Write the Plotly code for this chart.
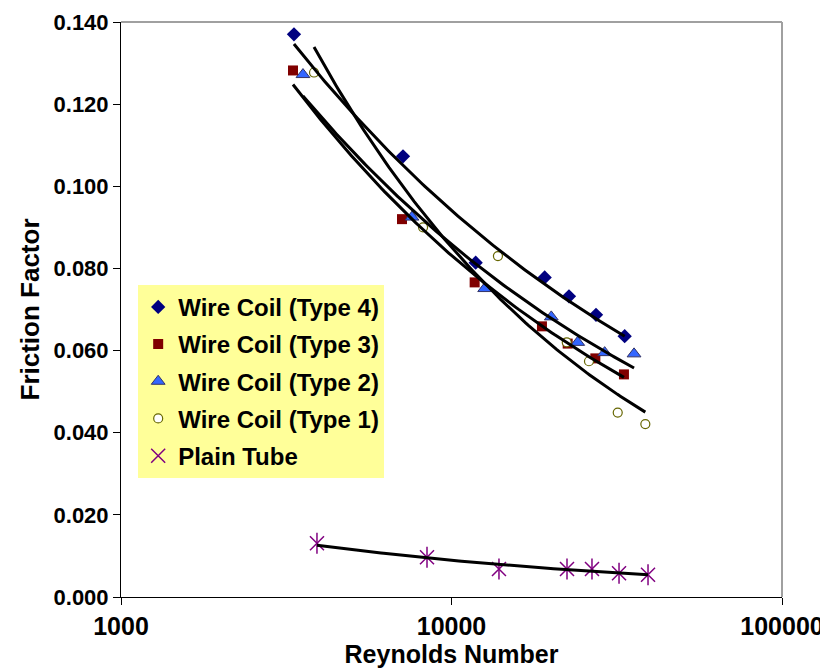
import numpy as np
import plotly.graph_objects as go

# ---- data ----
re_t4 = [3337, 7133, 11835, 19140, 22670, 27370, 33420]
f_t4 = [0.1370, 0.1073, 0.0814, 0.0778, 0.0732, 0.0687, 0.0635]

re_t3 = [3314, 7083, 11750, 18780, 22470, 27240, 33250]
f_t3 = [0.1282, 0.0920, 0.0766, 0.0659, 0.0617, 0.0581, 0.0542]

re_t2 = [3553, 7594, 12600, 20040, 24090, 29070, 35670]
f_t2 = [0.1272, 0.0925, 0.0751, 0.0682, 0.0620, 0.0595, 0.0592]

re_t1 = [3837, 8202, 13820, 22320, 26060, 31840, 38590]
f_t1 = [0.1277, 0.0900, 0.0830, 0.0620, 0.0574, 0.0449, 0.0421]

re_pt = [3917, 8431, 13920, 22360, 26610, 32130, 39320]
f_pt = [0.0131, 0.0097, 0.0068, 0.0068, 0.0068, 0.0058, 0.0054]

x_ticks = [1000, 10000, 100000]
x_tick_text = ["1000", "10000", "100000"]
y_ticks = [0.0, 0.02, 0.04, 0.06, 0.08, 0.10, 0.12, 0.14]

FONT = "Arial, 'Liberation Sans', sans-serif"


def power_fit(x, y):
    x = np.asarray(x, float)
    y = np.asarray(y, float)
    b, a = np.polyfit(np.log(x), np.log(y), 1)
    xs = np.geomspace(x.min(), x.max(), 120)
    return xs, np.exp(a) * xs ** b


fig = go.Figure()

series = [
    ("Wire Coil (Type 4)", re_t4, f_t4,
     dict(symbol="diamond", size=11, color="#000080", line=dict(width=0))),
    ("Wire Coil (Type 3)", re_t3, f_t3,
     dict(symbol="square", size=10, color="#800000", line=dict(width=0))),
    ("Wire Coil (Type 2)", re_t2, f_t2,
     dict(symbol="triangle-up", size=12, color="#3366FF",
          line=dict(width=1, color="#333366"))),
    ("Wire Coil (Type 1)", re_t1, f_t1,
     dict(symbol="circle", size=9, color="#FFFFFF",
          line=dict(width=1.2, color="#666600"))),
]

for i, (name, x, y, mk) in enumerate(series):
    fig.add_trace(go.Scatter(x=x, y=y, mode="markers", name=name,
                             marker=mk, legendgroup="g%d" % i))

fig.add_trace(go.Scatter(x=re_pt, y=f_pt, mode="markers", name="Plain Tube",
                         legendgroup="g4",
                         marker=dict(symbol="x-thin-open", size=14,
                                     color="#800080",
                                     line=dict(width=1.5, color="#800080"))))
fig.add_trace(go.Scatter(x=re_pt, y=f_pt, mode="markers", showlegend=False,
                         legendgroup="g4", hoverinfo="skip",
                         marker=dict(symbol="line-ns-open", size=15,
                                     color="#800080",
                                     line=dict(width=1.5, color="#800080"))))

# power-law trendlines
for x, y in [(re_t4, f_t4), (re_t3, f_t3), (re_t2, f_t2), (re_t1, f_t1), (re_pt, f_pt)]:
    xs, ys = power_fit(x, y)
    fig.add_trace(go.Scatter(x=xs, y=ys, mode="lines", showlegend=False,
                             hoverinfo="skip",
                             line=dict(color="black", width=3)))

# page body has an 8px margin, so the figure is sized/offset to compensate
fig.update_layout(
    width=820, height=664,
    margin=dict(l=113, r=46, t=14, b=75, autoexpand=False),
    paper_bgcolor="white", plot_bgcolor="white",
    font=dict(family=FONT, color="black"),
    showlegend=True,
    legend=dict(x=0.026, y=0.543, xanchor="left", yanchor="top",
                bgcolor="#FFFF99", borderwidth=0,
                font=dict(family=FONT, size=24, color="black", weight="bold"),
                tracegroupgap=3, itemwidth=30),
    xaxis=dict(type="log", range=[3, 5], tickvals=x_ticks, ticktext=x_tick_text,
               ticks="outside", ticklen=7, tickcolor="black", automargin=False,
               showline=True, linecolor="black", linewidth=1,
               showgrid=False, zeroline=False,
               tickfont=dict(family=FONT, size=25, weight="bold"),
               title=dict(text="Reynolds Number", standoff=2,
                          font=dict(family=FONT, size=25, weight="bold"))),
    yaxis=dict(range=[0, 0.14], tickvals=y_ticks, tickformat=".3f",
               ticks="outside", ticklen=7, tickcolor="black", automargin=False,
               showline=True, linecolor="black", linewidth=1,
               showgrid=False, zeroline=False,
               tickfont=dict(family=FONT, size=22, weight="bold"),
               title=dict(text="Friction Factor", standoff=6,
                          font=dict(family=FONT, size=26, weight="bold"))),
)

# gray plot-area frame (top and right)
fig.add_shape(type="line", xref="paper", yref="paper", x0=0, x1=1, y0=1, y1=1,
              line=dict(color="#A0A0A0", width=2))
fig.add_shape(type="line", xref="paper", yref="paper", x0=1, x1=1, y0=0, y1=1,
              line=dict(color="#A0A0A0", width=2))

fig.write_html("out.html")
